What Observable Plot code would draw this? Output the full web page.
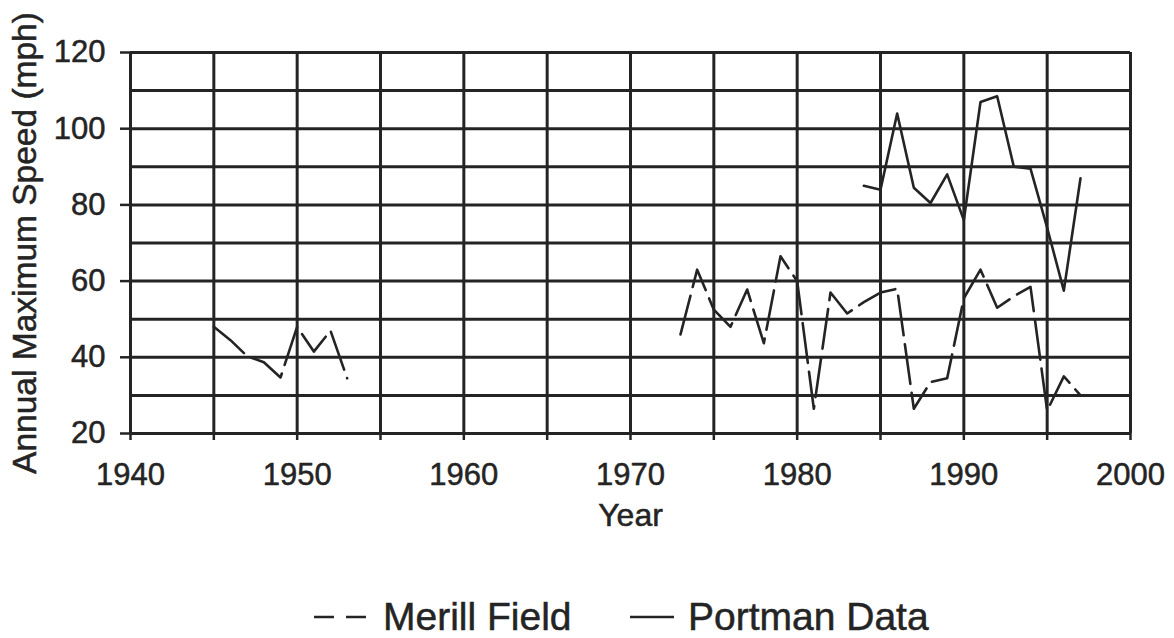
<!DOCTYPE html>
<html>
<head>
<meta charset="utf-8">
<script src="https://cdn.jsdelivr.net/npm/d3@7"></script>
<script src="https://cdn.jsdelivr.net/npm/@observablehq/plot@0.6"></script>
<style>
  html, body { margin: 0; padding: 0; background: #fff; }
  body { width: 1174px; height: 638px; overflow: hidden; font-family: "Liberation Sans", Arial, sans-serif; position: relative; }
  #chart svg text { stroke: #242424; stroke-width: 0.5px; }
  #legend { position: absolute; left: 0; top: 596px; width: 1174px; height: 42px; font-size: 39px; color: #242424; -webkit-text-stroke: 0.5px #242424; }
  #legend .sw { position: absolute; top: 16px; }
  #legend .lb { position: absolute; top: 0px; line-height: 42px; white-space: nowrap; }
</style>
</head>
<body>
<div id="chart"></div>
<div id="legend"></div>
<script>
// ---- Data ----
const merillYears  = [1945, 1946, 1947, 1948, 1949, 1950, 1951, 1952, 1953,
                      1973, 1974, 1975, 1976, 1977, 1978, 1979, 1980, 1981, 1982, 1983, 1984, 1985,
                      1986, 1987, 1988, 1989, 1990, 1991, 1992, 1993, 1994, 1995, 1996, 1997];
const merillSpeeds = [48, 44.5, 40.3, 38.7, 34.7, 48, 41.5, 47, 34.5,
                      46, 63, 52.5, 48, 57.8, 43.7, 66.5, 60, 26.5, 57, 51.5, 54.5, 57,
                      58, 26.5, 33.5, 34.5, 55.5, 63, 53, 56, 58.5, 26, 35, 30];
const merillPeriod = ["early", "early", "early", "early", "early", "early", "early", "early", "early",
                      "late", "late", "late", "late", "late", "late", "late", "late", "late", "late", "late", "late", "late",
                      "late", "late", "late", "late", "late", "late", "late", "late", "late", "late", "late", "late"];

const portmanYears  = [1984, 1985, 1986, 1987, 1988, 1989, 1990, 1991, 1992, 1993, 1994, 1995, 1996, 1997];
const portmanSpeeds = [85, 84, 104, 84.5, 80.5, 88, 76, 107, 108.5, 90, 89.5, 74, 57.5, 87];

const xGridYears  = [1940, 1945, 1950, 1955, 1960, 1965, 1970, 1975, 1980, 1985, 1990, 1995, 2000];
const xTickLabels = [1940, 1950, 1960, 1970, 1980, 1990, 2000];
const yGridValues = [20, 30, 40, 50, 60, 70, 80, 90, 100, 110, 120];
const yTickLabels = [20, 40, 60, 80, 100, 120];

const seriesNames = ["Merill Field", "Portman Data"];

// ---- Build tables ----
const merill = merillYears.map((year, i) => ({year, speed: merillSpeeds[i], period: merillPeriod[i]}));
const portman = portmanYears.map((year, i) => ({year, speed: portmanSpeeds[i]}));

const ink = "#242424";

const chart = Plot.plot({
  width: 1174,
  height: 596,
  marginLeft: 130,
  marginRight: 44,
  marginTop: 52,
  marginBottom: 163,
  style: {fontFamily: "'Liberation Sans', Arial, sans-serif", fontSize: "31px", color: ink, background: "#fff"},
  x: {domain: [1940, 2000]},
  y: {domain: [20, 120]},
  marks: [
    Plot.ruleX(xGridYears, {stroke: ink, strokeWidth: 3}),
    Plot.ruleY(yGridValues, {stroke: ink, strokeWidth: 3}),
    Plot.axisX({
      ticks: xGridYears, tickSize: 7, tickPadding: 22, strokeWidth: 2.5, stroke: ink,
      tickFormat: d => xTickLabels.includes(d) ? String(d) : "",
      label: null
    }),
    Plot.axisX({
      ticks: [], tickSize: 0, label: "Year", labelAnchor: "center", labelOffset: 92, labelArrow: "none", fontSize: 32
    }),
    Plot.axisY({
      ticks: yTickLabels, tickSize: 10, tickPadding: 15, strokeWidth: 2.5, stroke: ink,
      tickFormat: d => String(d),
      label: null
    }),
    Plot.axisY({
      ticks: [], tickSize: 0, label: "Annual Maximum Speed (mph)", labelAnchor: "center", labelOffset: 118, labelArrow: "none", fontSize: 33.5, dy: -4
    }),
    Plot.line(merill, {x: "year", y: "speed", z: "period", stroke: ink, strokeWidth: 2.6, strokeDasharray: "40,9"}),
    Plot.line(portman, {x: "year", y: "speed", stroke: ink, strokeWidth: 2.6})
  ]
});
document.getElementById("chart").appendChild(chart);

// ---- Legend ----
const legend = document.getElementById("legend");
legend.innerHTML = `
  <svg class="sw" style="left:313px" width="54" height="10"><line x1="1" y1="5" x2="53" y2="5" stroke="${ink}" stroke-width="2.6" stroke-dasharray="20,12"/></svg>
  <span class="lb" style="left:383px">${seriesNames[0]}</span>
  <svg class="sw" style="left:630px" width="44" height="10"><line x1="0" y1="5" x2="44" y2="5" stroke="${ink}" stroke-width="2.6"/></svg>
  <span class="lb" style="left:688px">${seriesNames[1]}</span>`;
</script>
</body>
</html>
